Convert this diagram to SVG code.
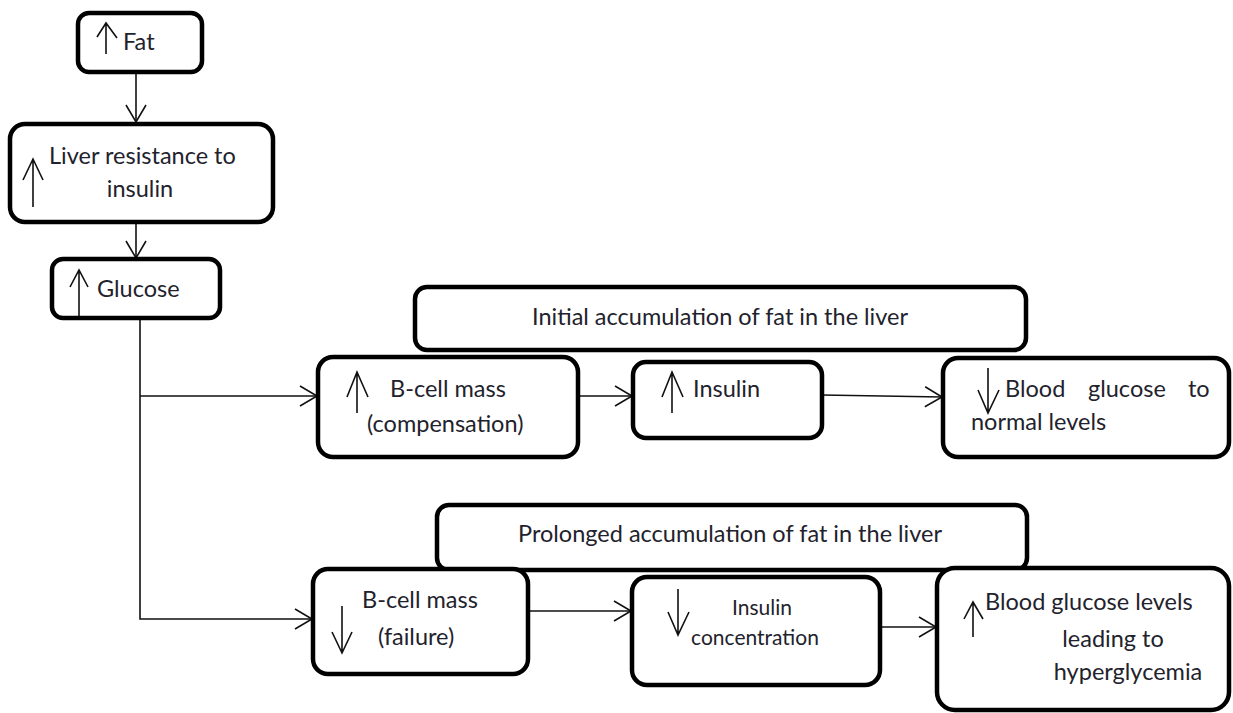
<svg xmlns="http://www.w3.org/2000/svg" width="1233" height="713" viewBox="0 0 1233 713">
<defs>
<style>
.box{fill:#fff;stroke:#000;stroke-width:4.5}
.t{font-family:Lato,"Liberation Sans",sans-serif;font-size:23.5px;fill:#22222c}
.ts{font-family:Lato,"Liberation Sans",sans-serif;font-size:21px;fill:#22222c}
.sym{fill:none;stroke:#111;stroke-width:1.6}
.c{fill:none;stroke:#111;stroke-width:1.6}
</style>
<marker id="ah" markerUnits="userSpaceOnUse" viewBox="0 0 20 22" refX="18" refY="11" markerWidth="20" markerHeight="22" orient="auto">
<path d="M1,1 L18,11 L1,21" fill="none" stroke="#111" stroke-width="1.6"/>
</marker>
</defs>
<rect width="1233" height="713" fill="#fff"/>
<g id="connectors">
<line class="c" x1="136" y1="72" x2="136" y2="122" marker-end="url(#ah)"/>
<line class="c" x1="136" y1="222" x2="136" y2="258" marker-end="url(#ah)"/>
<polyline class="c" points="140,318 140,619 312,619" marker-end="url(#ah)"/>
<line class="c" x1="140" y1="396" x2="317" y2="396" marker-end="url(#ah)"/>
<line class="c" x1="578" y1="396" x2="632" y2="396" marker-end="url(#ah)"/>
<line class="c" x1="822" y1="395" x2="942" y2="397" marker-end="url(#ah)"/>
<line class="c" x1="528" y1="611" x2="631" y2="611" marker-end="url(#ah)"/>
<line class="c" x1="880" y1="627" x2="936" y2="627" marker-end="url(#ah)"/>
</g>
<g id="fat">
<rect class="box" x="78" y="13" width="124" height="59" rx="11"/>
<path class="sym" d="M106,54 L106,23 M97,37 L106,23 L117,38"/>
<text class="t" x="123" y="50">Fat</text>
</g>
<g id="liver">
<rect class="box" x="10" y="124" width="263" height="98" rx="15"/>
<path class="sym" d="M33,207 L33,159 M23,180 L33,159 L43,180"/>
<text class="t" x="49" y="164">Liver resistance to</text>
<text class="t" x="140" y="197" text-anchor="middle">insulin</text>
</g>
<g id="glucose">
<rect class="box" x="52" y="259" width="168" height="59" rx="11"/>
<path class="sym" d="M79,316 L79,270 M70,287 L79,270 L88,287"/>
<text class="t" x="97" y="297">Glucose</text>
</g>
<g id="initial">
<rect class="box" x="415" y="287" width="611" height="63" rx="12"/>
<text class="t" x="532" y="325">Initial accumulation of fat in the liver</text>
</g>
<g id="bcell-comp">
<rect class="box" x="318" y="357" width="260" height="100" rx="15"/>
<path class="sym" d="M357,413 L357,372 M347,397 L357,372 L368,397"/>
<text class="t" x="390" y="397">B-cell mass</text>
<text class="t" x="367" y="432">(compensation)</text>
</g>
<g id="insulin">
<rect class="box" x="633" y="362" width="189" height="76" rx="13"/>
<path class="sym" d="M672,413 L672,372 M662,397 L672,372 L683,397"/>
<text class="t" x="693" y="397">Insulin</text>
</g>
<g id="blood-normal">
<rect class="box" x="943" y="358" width="286" height="99" rx="15"/>
<path class="sym" d="M988,368 L988,413 M978,390 L988,413 L999,390"/>
<text class="t" x="1005" y="397">Blood</text>
<text class="t" x="1088" y="397">glucose</text>
<text class="t" x="1188" y="397">to</text>
<text class="t" x="971" y="430">normal levels</text>
</g>
<g id="prolonged">
<rect class="box" x="437" y="505" width="590" height="65" rx="12"/>
<text class="t" x="518" y="542">Prolonged accumulation of fat in the liver</text>
</g>
<g id="bcell-failure">
<rect class="box" x="313" y="569" width="215" height="105" rx="15"/>
<path class="sym" d="M342,606 L342,653 M332,632 L342,653 L352,632"/>
<text class="t" x="362" y="608">B-cell mass</text>
<text class="t" x="378" y="645">(failure)</text>
</g>
<g id="insulin-conc">
<rect class="box" x="632" y="577" width="248" height="108" rx="15"/>
<path class="sym" d="M678,589 L678,635 M668,612 L678,635 L689,612"/>
<text class="ts" x="762" y="615" text-anchor="middle">Insulin</text>
<text class="ts" x="755" y="645" text-anchor="middle">concentration</text>
</g>
<g id="hyper">
<rect class="box" x="937" y="568" width="292" height="142" rx="18"/>
<path class="sym" d="M973,637 L973,602 M964,619 L973,602 L983,619"/>
<text class="t" x="985" y="610">Blood glucose levels</text>
<text class="t" x="1113" y="647" text-anchor="middle">leading to</text>
<text class="t" x="1128" y="680" text-anchor="middle">hyperglycemia</text>
</g>
</svg>
